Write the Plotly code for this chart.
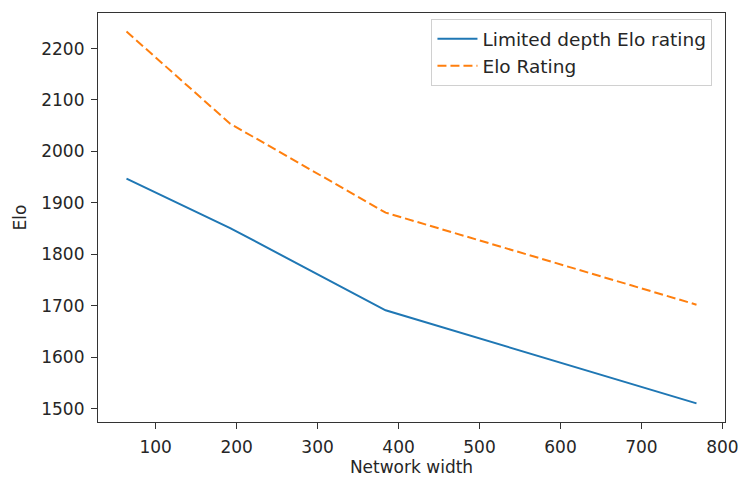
import plotly.graph_objects as go

widths = [64, 192, 384, 768]
limited_depth_elo = [1947, 1851, 1691, 1510]
elo_rating = [2233, 2054, 1881, 1702]

x_ticks = [100, 200, 300, 400, 500, 600, 700, 800]
y_ticks = [1500, 1600, 1700, 1800, 1900, 2000, 2100, 2200]

font = "DejaVu Sans"
fsize = 17
fig = go.Figure()
fig.add_trace(go.Scatter(x=widths, y=limited_depth_elo, mode="lines",
                         name="Limited depth Elo rating",
                         line=dict(color="#1f77b4", width=2)))
fig.add_trace(go.Scatter(x=widths, y=elo_rating, mode="lines",
                         name="Elo Rating",
                         line=dict(color="#ff7f0e", width=2, dash="9px,4px")))

axis_common = dict(showgrid=False, zeroline=False, showline=True, mirror=True,
                   linecolor="#333333", linewidth=1.2, ticks="outside", ticklen=6,
                   tickcolor="#333333", ticklabeloverflow="allow", ticklabelstandoff=3,
                   tickfont=dict(family=font, size=fsize, color="#262626"))

span_x = widths[-1] - widths[0]
ymin = min(limited_depth_elo + elo_rating)
ymax = max(limited_depth_elo + elo_rating)
span_y = ymax - ymin
fig.update_xaxes(range=[widths[0] - 0.05 * span_x, widths[-1] + 0.05 * span_x],
                 tickvals=x_ticks, title=dict(text="Network width", standoff=7,
                 font=dict(family=font, size=fsize, color="#262626")), **axis_common)
fig.update_yaxes(range=[ymin - 0.05 * span_y, ymax + 0.05 * span_y],
                 tickvals=y_ticks, title=dict(text="Elo", standoff=10,
                 font=dict(family=font, size=fsize, color="#262626")), **axis_common)

fig.update_layout(
    width=738, height=477,
    margin=dict(l=98, r=13, t=13, b=55, autoexpand=False),
    paper_bgcolor="white", plot_bgcolor="white",
    showlegend=True,
    legend=dict(x=0.98, y=0.985, xanchor="right", yanchor="top",
                bgcolor="rgba(255,255,255,0.8)", bordercolor="#d0d0d0", borderwidth=1,
                font=dict(family=font, size=18.5, color="#262626"),
                tracegroupgap=0, itemwidth=40),
)

fig.write_html("out.html", config={"displayModeBar": False},
               post_script="document.body.style.margin='0';")
